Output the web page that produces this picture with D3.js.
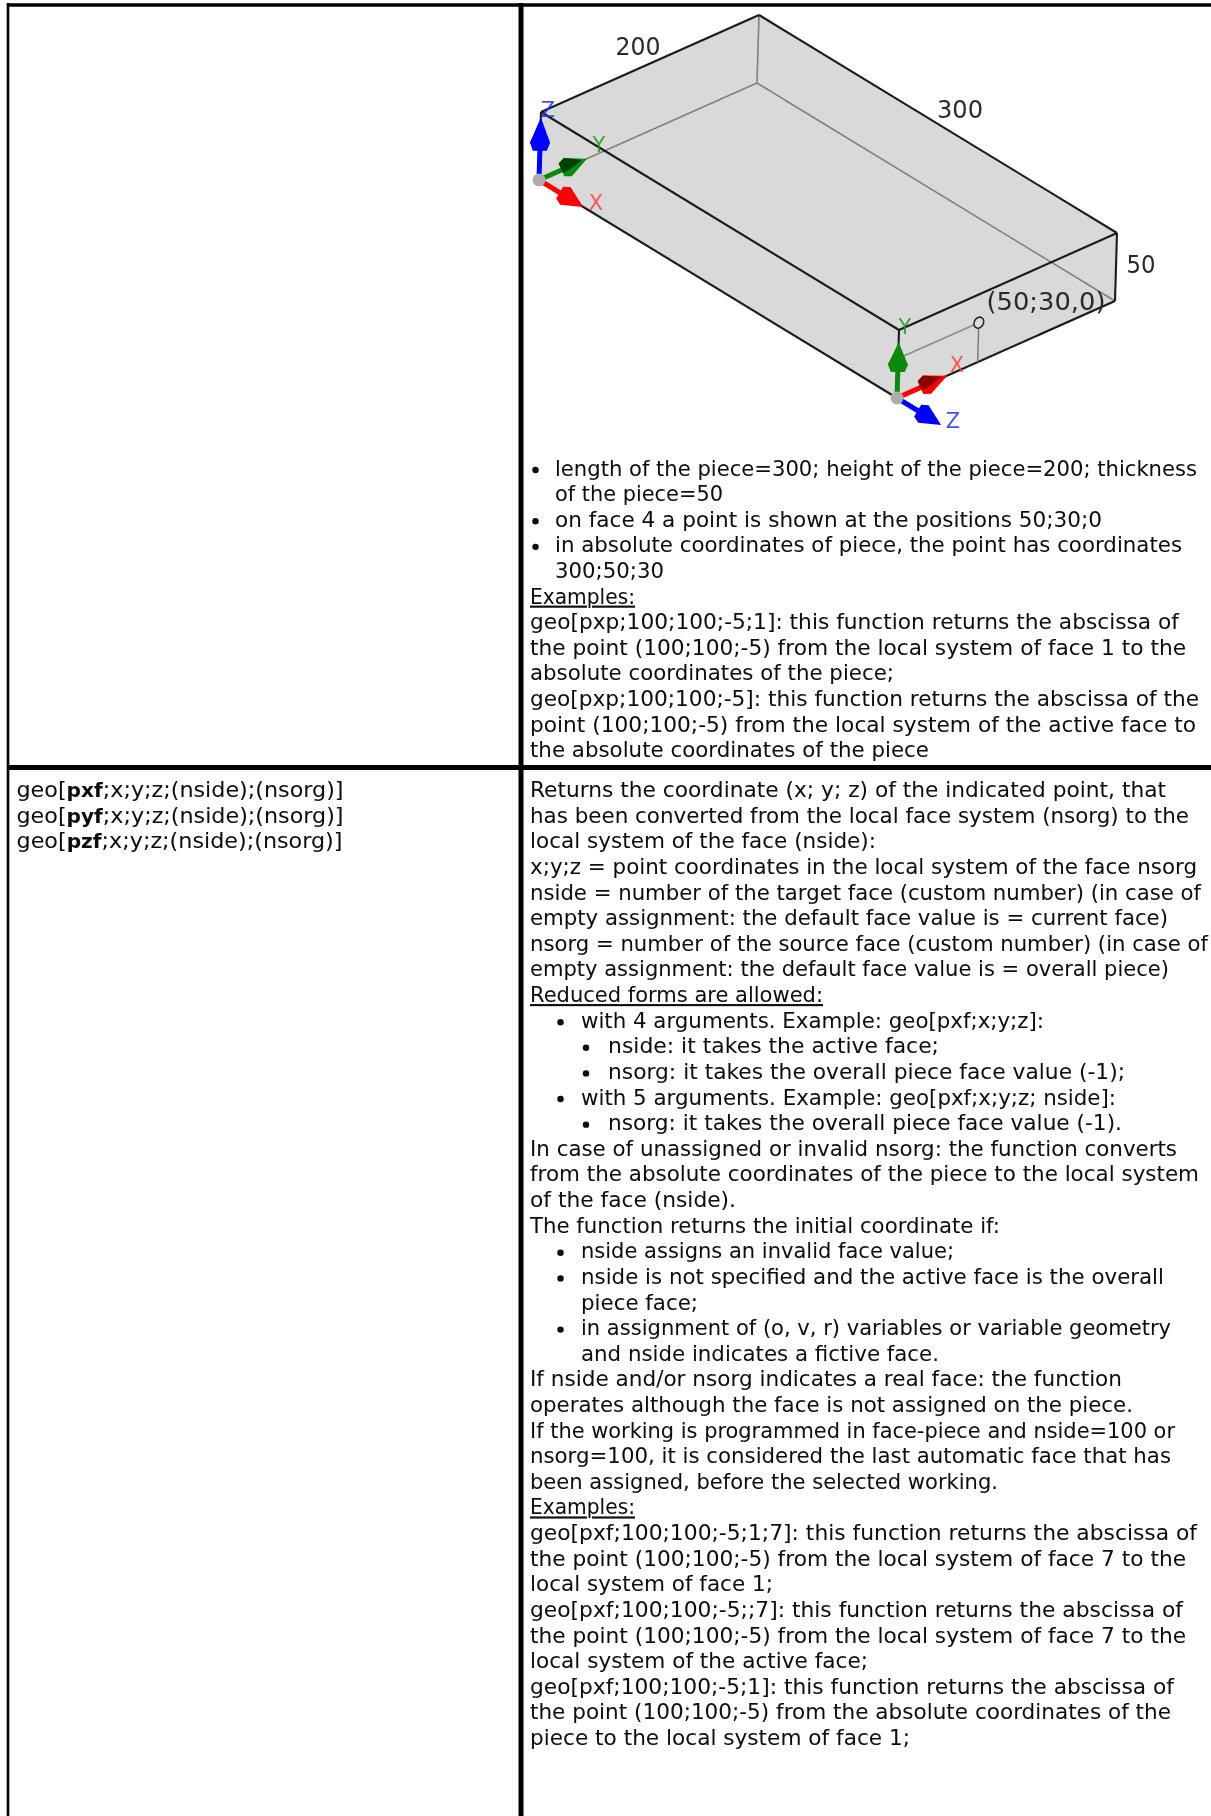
<!DOCTYPE html>
<html><head><meta charset="utf-8">
<script src="https://cdn.jsdelivr.net/npm/d3@7"></script>
<style>html,body{margin:0;padding:0;background:#fff}svg{display:block}</style></head>
<body><div id="c"></div>
<script>
const W = 1211, H = 1816;
// text: [indent level, bullet?, underline?, text, hanging?]
const infoLines = [
 [0,1,0,"length of the piece=300; height of the piece=200; thickness"],
 [0,0,0,"of the piece=50",1],
 [0,1,0,"on face 4 a point is shown at the positions 50;30;0"],
 [0,1,0,"in absolute coordinates of piece, the point has coordinates"],
 [0,0,0,"300;50;30",1],
 [0,0,1,"Examples:"],
 [0,0,0,"geo[pxp;100;100;-5;1]: this function returns the abscissa of"],
 [0,0,0,"the point (100;100;-5) from the local system of face 1 to the"],
 [0,0,0,"absolute coordinates of the piece;"],
 [0,0,0,"geo[pxp;100;100;-5]: this function returns the abscissa of the"],
 [0,0,0,"point (100;100;-5) from the local system of the active face to"],
 [0,0,0,"the absolute coordinates of the piece"]
];
const infoEnds = [1197,723,1102,1182,664,635,1179,1186,894,1199,1196,929];
const syntaxRows = ["pxf","pyf","pzf"];
const syntaxEnds = [343.5,343.5,342.5];
const syntaxHead = "geo[", syntaxTail = ";x;y;z;(nside);(nsorg)]";
const descLines = [
 [0,0,0,"Returns the coordinate (x; y; z) of the indicated point, that"],
 [0,0,0,"has been converted from the local face system (nsorg) to the"],
 [0,0,0,"local system of the face (nside):"],
 [0,0,0,"x;y;z = point coordinates in the local system of the face nsorg"],
 [0,0,0,"nside = number of the target face (custom number) (in case of"],
 [0,0,0,"empty assignment: the default face value is = current face)"],
 [0,0,0,"nsorg = number of the source face (custom number) (in case of"],
 [0,0,0,"empty assignment: the default face value is = overall piece)"],
 [0,0,1,"Reduced forms are allowed:"],
 [1,1,0,"with 4 arguments. Example: geo[pxf;x;y;z]:"],
 [2,1,0,"nside: it takes the active face;"],
 [2,1,0,"nsorg: it takes the overall piece face value (-1);"],
 [1,1,0,"with 5 arguments. Example: geo[pxf;x;y;z; nside]:"],
 [2,1,0,"nsorg: it takes the overall piece face value (-1)."],
 [0,0,0,"In case of unassigned or invalid nsorg: the function converts"],
 [0,0,0,"from the absolute coordinates of the piece to the local system"],
 [0,0,0,"of the face (nside)."],
 [0,0,0,"The function returns the initial coordinate if:"],
 [1,1,0,"nside assigns an invalid face value;"],
 [1,1,0,"nside is not specified and the active face is the overall"],
 [1,0,0,"piece face;"],
 [1,1,0,"in assignment of (o, v, r) variables or variable geometry"],
 [1,0,0,"and nside indicates a fictive face."],
 [0,0,0,"If nside and/or nsorg indicates a real face: the function"],
 [0,0,0,"operates although the face is not assigned on the piece."],
 [0,0,0,"If the working is programmed in face-piece and nside=100 or"],
 [0,0,0,"nsorg=100, it is considered the last automatic face that has"],
 [0,0,0,"been assigned, before the selected working."],
 [0,0,1,"Examples:"],
 [0,0,0,"geo[pxf;100;100;-5;1;7]: this function returns the abscissa of"],
 [0,0,0,"the point (100;100;-5) from the local system of face 7 to the"],
 [0,0,0,"local system of face 1;"],
 [0,0,0,"geo[pxf;100;100;-5;;7]: this function returns the abscissa of"],
 [0,0,0,"the point (100;100;-5) from the local system of face 7 to the"],
 [0,0,0,"local system of the active face;"],
 [0,0,0,"geo[pxf;100;100;-5;1]: this function returns the abscissa of"],
 [0,0,0,"the point (100;100;-5) from the absolute coordinates of the"],
 [0,0,0,"piece to the local system of face 1;"]
];
const descEnds = [1166,1189,876,1197,1201,1168,1208,1169,823,1044,939,1125,1116,1122,1177,1199,736,1000,954,1164,698,1171,939,1122,1133,1175,1171,998,635,1197,1186,773,1183,1186,868,1174,1171,910];
// piece dimensions
const pieceLen = 300, pieceWid = 200, pieceThk = 50;
// dimension labels
const dimLabels = ["200","300","50","(50;30,0)"];
const dimLabelX = [638,960,1141,1046], dimLabelY = [55,118,273,310], dimLabelW = [45,46,29,119];
// axes triads: origin along length, axis vectors in piece units
const triadOrigins = [[0,0,0],[300,0,0]];
const triadAxes = [
 [{c:"#0000ff",d:"#0000ff",v:[0,0,46],l:"Z",lc:"#2030ff",lx:548,ly:110},
  {c:"#0a8a0a",d:"#054005",v:[0,44,0],l:"Y",lc:"#1f9a1f",lx:599,ly:145},
  {c:"#ff0000",d:"#ff0000",v:[37,0,0],l:"X",lc:"#ff4040",lx:596,ly:203}],
 [{c:"#0a8a0a",d:"#0a8a0a",v:[0,0,41],l:"Y",lc:"#1f9a1f",lx:905,ly:327},
  {c:"#ff0000",d:"#8a0000",v:[0,46,0],l:"X",lc:"#ff4040",lx:957,ly:365},
  {c:"#0000ff",d:"#0000ff",v:[37,0,0],l:"Z",lc:"#2030ff",lx:953,ly:421}]
];
// point on the end face
const marker = {l:300,w:74,t:29};

// projection through linear scales
const sLx = d3.scaleLinear([0,pieceLen],[0,358]), sLy = d3.scaleLinear([0,pieceLen],[0,218]);
const sWx = d3.scaleLinear([0,pieceWid],[0,218]), sWy = d3.scaleLinear([0,pieceWid],[0,-97]);
const sTx = d3.scaleLinear([0,pieceThk],[0,2]),   sTy = d3.scaleLinear([0,pieceThk],[0,-68]);
const O = [539,180];
const proj = (l,w,t)=>[O[0]+sLx(l)+sWx(w)+sTx(t), O[1]+sLy(l)+sWy(w)+sTy(t)];

const svg = d3.select("#c").append("svg").attr("width",W).attr("height",H).attr("viewBox",`0 0 ${W} ${H}`);
const FONT = "'DejaVu Sans',Verdana,sans-serif", FS = 21, LH = 25.62;
const inkColor = "#0a0a0a";
const defs = svg.append("defs");
const mkBlur=(id,s)=>defs.append("filter").attr("id",id).attr("x","-5%").attr("y","-5%").attr("width","110%").attr("height","110%")
  .append("feGaussianBlur").attr("stdDeviation",s);
mkBlur("soft",0.6); mkBlur("softText",0.4);

// table rules
const rules = [[8,3,8,H,2.6],[521,3,521,H,5],[8,5,W,5,3.4],[8,767.5,W,767.5,5]];
svg.append("g").selectAll("line").data(rules).join("line")
  .attr("x1",d=>d[0]).attr("y1",d=>d[1]).attr("x2",d=>d[2]).attr("y2",d=>d[3])
  .attr("stroke","#000").attr("stroke-width",d=>d[4]);

// drawing
const dia = svg.append("g").attr("filter","url(#soft)");
const pth = pts=>"M"+pts.map(p=>p.join(",")).join("L")+"Z";
const L=pieceLen,Wd=pieceWid,T=pieceThk;
const faces=[
 [[0,0,T],[0,Wd,T],[L,Wd,T],[L,0,T]],
 [[0,0,0],[0,0,T],[L,0,T],[L,0,0]],
 [[L,0,0],[L,0,T],[L,Wd,T],[L,Wd,0]]
];
dia.append("g").selectAll("path").data(faces).join("path")
  .attr("d",f=>pth(f.map(p=>proj(...p)))).attr("fill","#d9d9d9");
const hidden=[[[0,0,0],[0,Wd,0]],[[0,Wd,0],[L,Wd,0]],[[0,Wd,0],[0,Wd,T]]];
const solid=[[[0,0,T],[0,Wd,T]],[[0,Wd,T],[L,Wd,T]],[[0,0,T],[L,0,T]],[[L,0,T],[L,Wd,T]],
             [[0,0,0],[L,0,0]],[[L,0,0],[L,Wd,0]],[[L,Wd,0],[L,Wd,T]],[[L,0,0],[L,0,T]],[[0,0,0],[0,0,T]]];
const seg=(g,data,col,sw)=>g.append("g").selectAll("line").data(data).join("line")
  .attr("x1",d=>proj(...d[0])[0]).attr("y1",d=>proj(...d[0])[1])
  .attr("x2",d=>proj(...d[1])[0]).attr("y2",d=>proj(...d[1])[1])
  .attr("stroke",col).attr("stroke-width",sw);
seg(dia,hidden,"#808080",1.6);
seg(dia,solid,"#1a1a1a",2.1);
// marker
seg(dia,[[[marker.l,3,marker.t],[marker.l,marker.w,marker.t]]],"#8c8c8c",1.6);
seg(dia,[[[marker.l,marker.w,0],[marker.l,marker.w,marker.t]]],"#777",1.4);
const mp=proj(marker.l,marker.w,marker.t);
dia.append("ellipse").attr("cx",mp[0]).attr("cy",mp[1]).attr("rx",4.6).attr("ry",5.8)
  .attr("transform",`rotate(30 ${mp[0]} ${mp[1]})`).attr("fill","#d9d9d9").attr("stroke","#222").attr("stroke-width",1.5);

// arrows
triadOrigins.forEach((o,i)=>{
  const a=proj(...o);
  triadAxes[i].forEach(ax=>{
    const b=proj(o[0]+ax.v[0],o[1]+ax.v[1],o[2]+ax.v[2]);
    const dx=b[0]-a[0],dy=b[1]-a[1],len=Math.hypot(dx,dy),ux=dx/len,uy=dy/len,nx=-uy,ny=ux;
    const at=(f,s)=>[a[0]+dx*f+nx*s,a[1]+dy*f+ny*s];
    dia.append("line").attr("x1",a[0]).attr("y1",a[1]).attr("x2",at(.6,0)[0]).attr("y2",at(.6,0)[1])
      .attr("stroke",ax.c).attr("stroke-width",5);
    dia.append("path").attr("d",pth([at(1,0),at(.6,10),at(.47,7),at(.47,-7),at(.6,-10)])).attr("fill",ax.c);
    dia.append("path").attr("d",pth([at(.9,-1),at(.6,-10),at(.47,-7),at(.47,3),at(.6,3)])).attr("fill",ax.d);
    dia.append("text").attr("x",ax.lx).attr("y",ax.ly).attr("text-anchor","middle").attr("dominant-baseline","central")
      .attr("font-family",FONT).attr("font-size",21).attr("font-weight","normal").attr("fill",ax.lc).attr("opacity",.85).text(ax.l);
  });
  dia.append("circle").attr("cx",a[0]).attr("cy",a[1]).attr("r",6.5).attr("fill","#adadad");
});
// dimension labels
dia.append("g").selectAll("text").data(dimLabels).join("text")
  .attr("x",(d,i)=>dimLabelX[i]-dimLabelW[i]/2).attr("y",(d,i)=>dimLabelY[i])
  .attr("textLength",(d,i)=>dimLabelW[i]).attr("lengthAdjust","spacingAndGlyphs")
  .attr("font-family",FONT).attr("font-size",24).attr("fill","#2b2b2b").text(d=>d);

// text blocks
const TEXTX=[530,581,608], BUL=[535.5,560.5,586];
function block(lines,ends,y0){
  const g=svg.append("g").attr("font-family",FONT).attr("font-size",FS).attr("fill",inkColor).attr("filter","url(#softText)");
  lines.forEach((d,i)=>{
    const y=y0+i*LH;
    const x=(d[4]||(d[1]&&d[0]===0))?555:TEXTX[d[0]];
    if(d[1]) g.append("circle").attr("cx",BUL[d[0]]).attr("cy",y-5.5).attr("r",3.2).attr("fill",inkColor);
    g.append("text").attr("x",x).attr("y",y).attr("text-decoration",d[2]?"underline":null)
      .attr("textLength",ends[i]-x).attr("lengthAdjust","spacingAndGlyphs").text(d[3]);
  });
}
block(infoLines,infoEnds,475.5);
block(descLines,descEnds,797.1);
const gs=svg.append("g").attr("font-family",FONT).attr("font-size",FS).attr("fill",inkColor).attr("filter","url(#softText)");
gs.selectAll("text").data(syntaxRows).join("text").attr("x",16.5).attr("y",(d,i)=>797.1+i*LH)
  .attr("textLength",(d,i)=>syntaxEnds[i]-16.5).attr("lengthAdjust","spacingAndGlyphs")
  .each(function(d){const t=d3.select(this);
    t.append("tspan").text(syntaxHead);
    t.append("tspan").attr("font-weight","bold").attr("font-size",19).text(d);
    t.append("tspan").text(syntaxTail);});
</script></body></html>
